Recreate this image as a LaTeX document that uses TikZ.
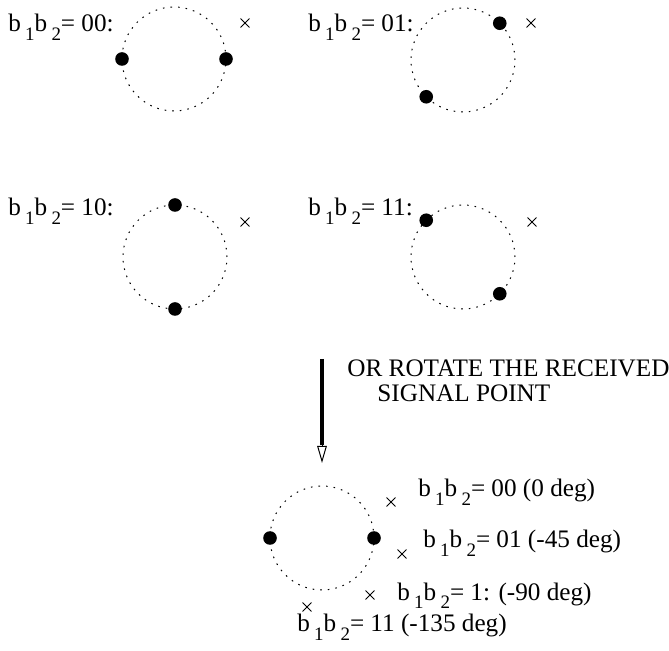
\documentclass[tikz,border=0pt]{standalone}
\usepackage{fontspec}
\setmainfont{Liberation Serif}
\usepackage{tikz}
\usetikzlibrary{arrows.meta,positioning}
\usetikzlibrary{shapes.misc}

\newcommand{\bsub}[1]{\,\raisebox{-0.75ex}{\fontsize{9.5}{9.5}\selectfont #1}}
\newcommand{\bpair}{b\bsub{1}b\bsub{2}}

\begin{document}
\begin{tikzpicture}[
        x=0.5pt, y=-0.5pt,
        font=\fontsize{12.6}{14}\selectfont,
        ring/.style={circle, draw, outer sep=0pt, inner sep=0pt, minimum size=52pt, line width=0.5pt, dash pattern=on 0.8pt off 3pt},
        sigdot/.style={circle, fill, inner sep=0pt, minimum size=6.8pt},
        xmark/.style={cross out, draw, inner sep=0pt, minimum size=4pt, line width=0.45pt},
        lbl/.style={anchor=base west, inner sep=0pt},
        shaft/.style={line width=2pt},
        head/.style={line width=0.5pt, -{Triangle[open, length=8.5pt, width=4.8pt]}}
    ]
    \useasboundingbox (0,0) rectangle (669,651);

    % 00
    \node[lbl] (l00) at (8,32) {\bpair= 00:};
    \node[ring] (c1) at (174,59) {};
    \node[sigdot] (d1a) at (c1.180) {};
    \node[sigdot] (d1b) at (c1.0) {};
    \node[xmark] (x1) at (245,23) {};

    % 01
    \node[lbl] (l01) at (308,32) {\bpair= 01:};
    \node[ring] (c2) at (463,60) {};
    \node[sigdot] (d2a) at (c2.45) {};
    \node[sigdot] (d2b) at (c2.225) {};
    \node[xmark] (x2) at (531,23) {};

    % 10
    \node[lbl] (l10) at (8,216) {\bpair= 10:};
    \node[ring] (c3) at (175,257) {};
    \node[sigdot] (d3a) at (c3.90) {};
    \node[sigdot] (d3b) at (c3.270) {};
    \node[xmark] (x3) at (245,222) {};

    % 11
    \node[lbl] (l11) at (308,216) {\bpair= 11:};
    \node[ring] (c4) at (463,257) {};
    \node[sigdot] (d4a) at (c4.135) {};
    \node[sigdot] (d4b) at (c4.315) {};
    \node[xmark] (x4) at (532,222) {};

    % Arrow and note
    \coordinate (atop) at (322,359);
    \coordinate (amid) at (322,445);
    \coordinate (atip) at (322,463);
    \draw[shaft] (atop) -- (amid);
    \draw[head] (amid) -- (atip);
    \node[lbl] (note1) at (347,377) {OR ROTATE THE RECEIVED};
    \node[lbl] (note2) at (377,402) {SIGNAL POINT};

    % Rotated received point
    \node[ring] (c5) at (322,538) {};
    \node[sigdot] (d5a) at (c5.180) {};
    \node[sigdot] (d5b) at (c5.0) {};
    \node[xmark] (x5) at (391,502) {};
    \node[xmark] (x6) at (402,554) {};
    \node[xmark] (x7) at (370,595) {};
    \node[xmark] (x8) at (307,607) {};
    \node[lbl] (r00) at (418,497) {\bpair= 00 (0 deg)};
    \node[lbl] (r01) at (423,548) {\bpair= 01 (-45 deg)};
    \node[lbl] (r10) at (397,600) {\bpair= 1: (-90 deg)};
    \node[lbl] (r11) at (297,632) {\bpair= 11 (-135 deg)};

\end{tikzpicture}
\end{document}
